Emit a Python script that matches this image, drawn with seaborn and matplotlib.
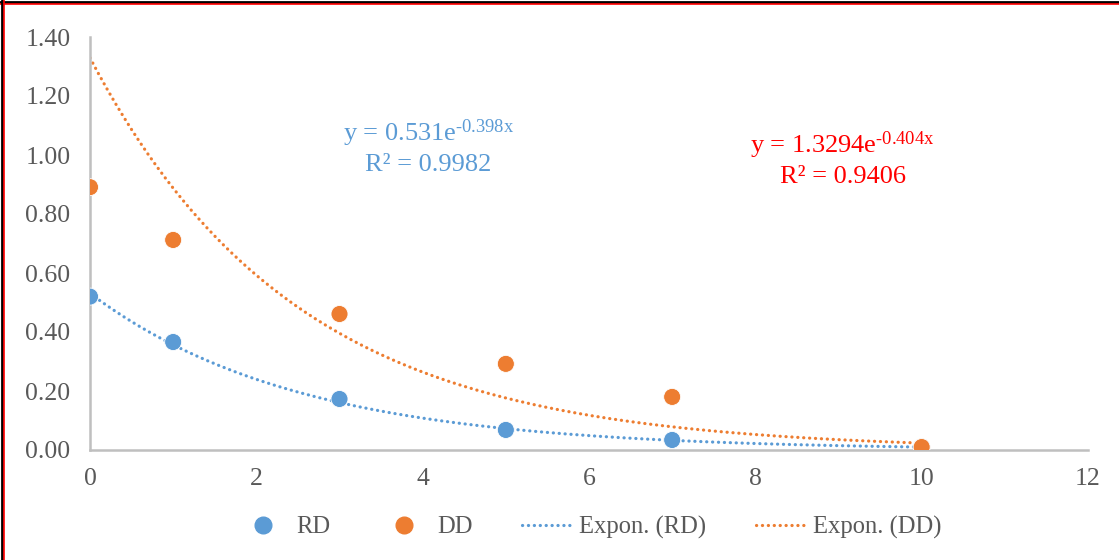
import numpy as np
import pandas as pd
import matplotlib
matplotlib.use("Agg")
import matplotlib.pyplot as plt
import seaborn as sns
from matplotlib.lines import Line2D

# ---- data ----
x_vals = [0, 1, 3, 5, 7, 10]
rd_vals = [0.52, 0.366, 0.173, 0.068, 0.034, 0.01]
dd_vals = [0.891, 0.712, 0.461, 0.292, 0.18, 0.01]
rd_fit = (0.531, -0.398, 0.9982)   # a, b, R^2
dd_fit = (1.3294, -0.404, 0.9406)
x_ticks = [0, 2, 4, 6, 8, 10, 12]
y_ticks = [0.0, 0.2, 0.4, 0.6, 0.8, 1.0, 1.2, 1.4]

BLUE = "#5B9BD5"
ORANGE = "#ED7D31"
GRAY_TXT = "#595959"
AX_GRAY = "#BFBFBF"

sns.set_style("white")
plt.rcParams['font.family'] = ['Liberation Serif', 'DejaVu Serif']
plt.rcParams['mathtext.fontset'] = 'custom'
plt.rcParams['mathtext.rm'] = 'Liberation Serif'
plt.rcParams['mathtext.it'] = 'Liberation Serif'

fig = plt.figure(figsize=(11.19, 5.6), dpi=100)
ax = fig.add_axes([90/1119, 1-450/560, (1088-90)/1119, (450-37)/560])

pts = pd.DataFrame({
    "x": x_vals * 2,
    "y": rd_vals + dd_vals,
    "series": ["RD"] * len(x_vals) + ["DD"] * len(x_vals),
})

xs = np.linspace(0, 10, 300)
trend = pd.DataFrame({
    "x": np.concatenate([xs, xs]),
    "y": np.concatenate([rd_fit[0]*np.exp(rd_fit[1]*xs), dd_fit[0]*np.exp(dd_fit[1]*xs)]),
    "series": ["Expon. (RD)"] * len(xs) + ["Expon. (DD)"] * len(xs),
})

dot = (0, (0.05, 1.8))
LW = 2.3
for name, col in [("Expon. (RD)", BLUE), ("Expon. (DD)", ORANGE)]:
    sub = trend[trend.series == name]
    sns.lineplot(data=sub, x="x", y="y", ax=ax, color=col, lw=LW,
                 linestyle=dot, dash_capstyle="round", legend=False, zorder=2)

sns.scatterplot(data=pts, x="x", y="y", hue="series",
                palette={"RD": BLUE, "DD": ORANGE}, s=150, edgecolor="white",
                linewidth=0.6, ax=ax, legend=False, zorder=3)

ax.set_xlim(0, 12)
ax.set_ylim(0, 1.4)
ax.set_xticks(x_ticks)
ax.set_xticklabels([str(t) for t in x_ticks])
ax.set_yticks(y_ticks)
ax.set_yticklabels([f"{t:.2f}" for t in y_ticks])
ax.set_xlabel("")
ax.set_ylabel("")
ax.tick_params(axis="both", length=0, labelsize=18.5, colors=GRAY_TXT)
ax.tick_params(axis="x", pad=13)
ax.tick_params(axis="y", pad=14)
for s in ["top", "right"]:
    ax.spines[s].set_visible(False)
for s in ["left", "bottom"]:
    ax.spines[s].set_color(AX_GRAY)
    ax.spines[s].set_linewidth(1.8)

# equations
HY = "\u2010"
FS = 19
ax.text(4.07, 1.075, r"y = 0.531e$^{\mathrm{" + HY + r"0.398x}}$", color=BLUE, fontsize=FS,
        ha="center", va="center")
ax.text(4.07, 0.966, f"R² = {rd_fit[2]:.4f}", color=BLUE, fontsize=FS,
        ha="center", va="center")
ax.text(9.05, 1.034, r"y = 1.3294e$^{\mathrm{" + HY + r"0.404x}}$", color="#FF0000", fontsize=FS,
        ha="center", va="center")
ax.text(9.05, 0.925, f"R² = {dd_fit[2]:.4f}", color="#FF0000", fontsize=FS,
        ha="center", va="center")

handles = [
    Line2D([], [], marker="o", ls="none", color=BLUE, markersize=12),
    Line2D([], [], marker="o", ls="none", color=ORANGE, markersize=12),
    Line2D([], [], color=BLUE, lw=LW, ls=dot, dash_capstyle="round"),
    Line2D([], [], color=ORANGE, lw=LW, ls=dot, dash_capstyle="round"),
]
labels = ["RD", "DD", "Expon. (RD)", "Expon. (DD)"]
leg = fig.legend(handles, labels, loc="center", bbox_to_anchor=(590/1119, 1-527/560),
                 ncol=4, frameon=False, fontsize=17.7, handlelength=2.0,
                 columnspacing=2.0, handletextpad=0.35)
for t in leg.get_texts():
    t.set_color(GRAY_TXT)

# figure border (top and left, black with red inner line)
fig.add_artist(Line2D([0, 1], [1-1.5/560, 1-1.5/560], transform=fig.transFigure, color="black", lw=2))
fig.add_artist(Line2D([0, 1], [1-3.5/560, 1-3.5/560], transform=fig.transFigure, color="#FF0000", lw=1.2))
fig.add_artist(Line2D([1.5/1119, 1.5/1119], [0, 1], transform=fig.transFigure, color="black", lw=2))
fig.add_artist(Line2D([3.5/1119, 3.5/1119], [0, 1], transform=fig.transFigure, color="#FF0000", lw=1.2))

fig.savefig("out.png", dpi=100)
